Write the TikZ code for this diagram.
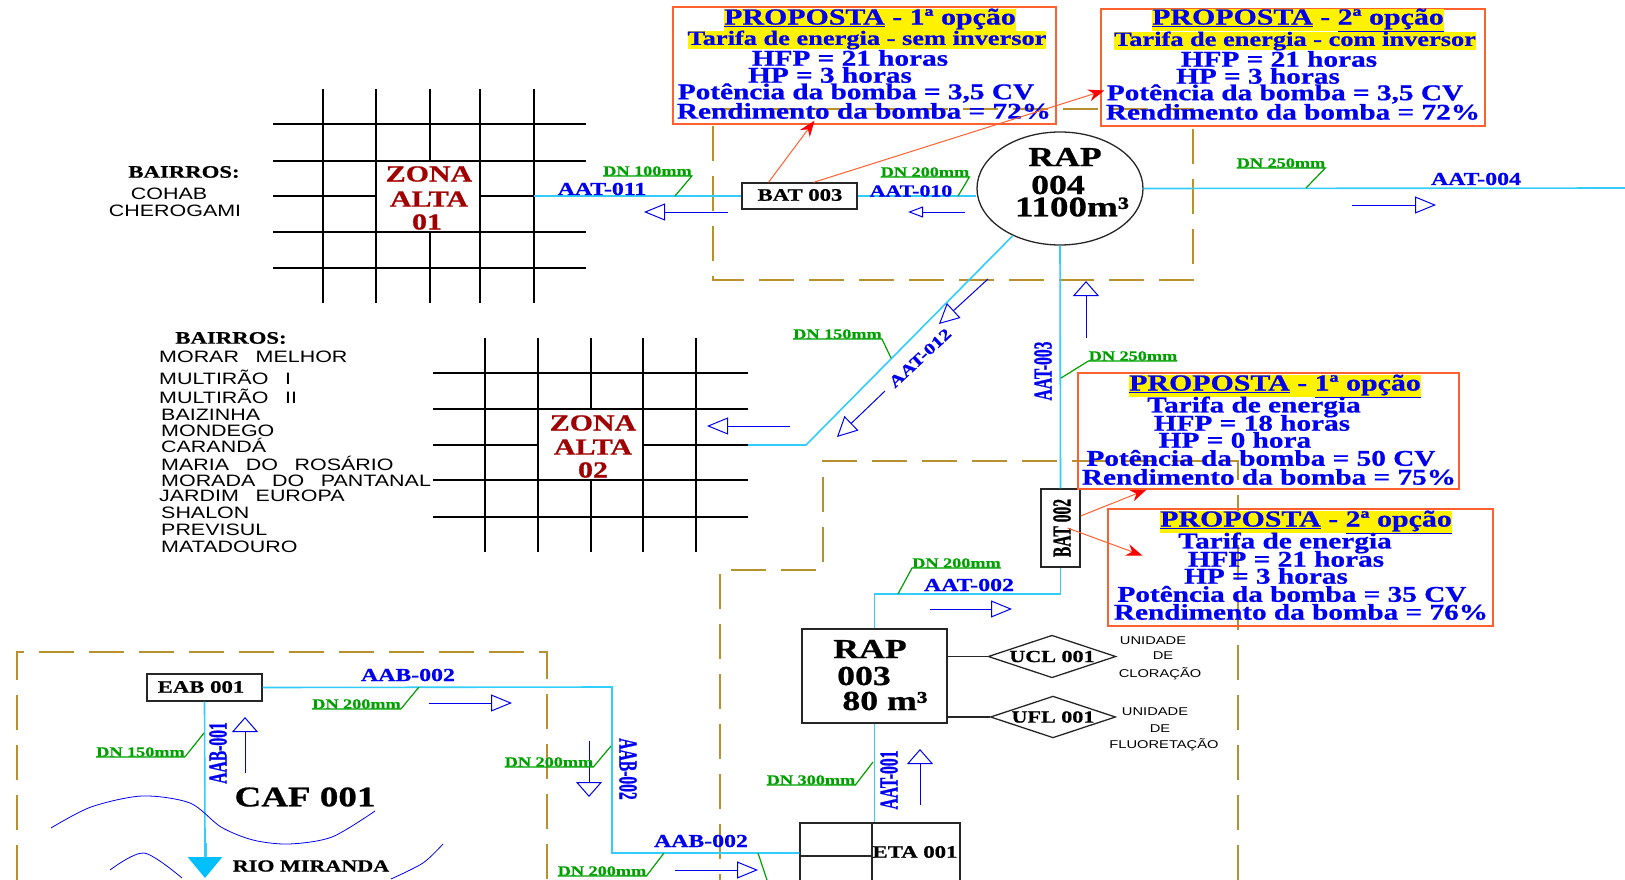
\documentclass[tikz,border=0pt]{standalone}
\usepackage{fontspec}
\usepackage{tikz}
\usetikzlibrary{arrows.meta,positioning,shapes.geometric}
\newfontfamily\cadserif[FakeStretch=1.3,BoldFeatures={FakeBold=.8}]{Liberation Serif}
\newfontfamily\cadtall[FakeStretch=0.6,BoldFeatures={FakeBold=.8}]{Liberation Serif}
\newfontfamily\cadsans[FakeStretch=1.3,WordSpace=2.8]{Liberation Sans}
\definecolor{pipeblue}{HTML}{33CCFF}
\definecolor{headblue}{HTML}{00BFFF}
\definecolor{txtblue}{HTML}{0000F0}
\definecolor{dngreen}{HTML}{00A000}
\definecolor{zonered}{HTML}{A00000}
\definecolor{limbrown}{HTML}{B8912F}
\definecolor{boxred}{HTML}{FF6030}
\tikzset{
  every node/.style={inner sep=0pt,align=center},
  limit/.style={limbrown,line width=1.3pt,dash pattern=on 35pt off 15pt},
  street/.style={black,line width=1.2pt},
  pipe/.style={pipeblue,line width=1.6pt},
  flow/.style={txtblue,line width=1pt,-{Triangle[open,length=#1]}},
  flow/.default={21pt,width=17pt},
  option/.style={draw=boxred,line width=1.4pt,minimum width=#1},
  redarrow/.style={boxred,line width=1pt,-{Stealth[length=16pt,width=12pt,color=red]}},
  station/.style={draw=black!85,line width=1.3pt},
  stationtxt/.style={font=\cadserif\bfseries\fontsize{17.5}{20}\selectfont},
  bigtxt/.style={font=\cadserif\bfseries\fontsize{27.5}{30}\selectfont},
  zonetxt/.style={zonered,font=\cadserif\bfseries\fontsize{23}{24}\selectfont},
  pipetxt/.style={txtblue,font=\cadserif\bfseries\fontsize{18.3}{20}\selectfont},
  pipetall/.style={txtblue,font=\cadtall\bfseries\fontsize{26}{28}\selectfont},
  dntxt/.style={dngreen,font=\cadserif\bfseries\fontsize{14}{15}\selectfont},
  dnline/.style={dngreen,line width=1.2pt},
  proptitle/.style={txtblue,fill=yellow,font=\cadserif\bfseries\fontsize{23}{24}\selectfont},
  propsub/.style={txtblue,font=\cadserif\bfseries\fontsize{20.3}{22}\selectfont},
  propline/.style={txtblue,font=\cadserif\bfseries\fontsize{22.5}{24}\selectfont},
  bairrotxt/.style={anchor=west,font=\cadsans\fontsize{16.5}{18}\selectfont},
  unittxt/.style={font=\cadsans\fontsize{11.3}{14}\selectfont},
  river/.style={txtblue,line width=.8pt},
}
\begin{document}
\begin{tikzpicture}[x=1pt,y=-1pt]
  \useasboundingbox (0,0) rectangle (1625,880);
  \clip (0,0) rectangle (1625,880);

  \draw[limit] (713,109) -- (1193,109) -- (1193,280) -- (713,280) -- cycle;
  \draw[limit] (1238,880) -- (1238,461) -- (823,461) -- (823,570) -- (720,570) -- (720,880);
  \draw[limit] (17,880) -- (17,652) -- (547,652) -- (547,880);

  \foreach \x in {323,376,480,534} \draw[street] (\x,89) -- (\x,303);
  \foreach \y in {124,161,232,268} \draw[street] (273,\y) -- (586,\y);
  \draw[street] (430,89) -- (430,161) (430,232) -- (430,303);
  \draw[street] (273,196) -- (376,196) (480,196) -- (534,196);
  \foreach \x in {485,538,643,696} \draw[street] (\x,338) -- (\x,552);
  \foreach \y in {373,409,480,517} \draw[street] (433,\y) -- (748,\y);
  \draw[street] (591,338) -- (591,409) (591,480) -- (591,552);
  \draw[street] (433,445) -- (538,445) (643,445) -- (748,445);

  \foreach \n/\x/\y/\t in {a/429/174/ZONA,b/429/199/ALTA,c/427/222/01}
    \node[zonetxt] (zone1\n) at (\x,\y) {\t};
  \foreach \n/\y/\t in {a/423/ZONA,b/447/ALTA,c/470/02}
    \node[zonetxt] (zone2\n) at (593,\y) {\t};

  \node[station,minimum width=115pt,minimum height=26pt] (bat003) at (799.5,196) {};
  \node[stationtxt] (bat003txt) at (800,195) {BAT 003};
  \node[station,ellipse,minimum width=166pt,minimum height=113pt] (rap004) at (1060,188.5) {};
  \node[bigtxt] (rap004a) at (1065,157) {RAP};
  \node[bigtxt] (rap004b) at (1058,185) {004};
  \node[bigtxt,font=\cadserif\bfseries\fontsize{28.5}{30}\selectfont] (rap004c) at (1072,207) {1100m³};
  \node[station,minimum width=39pt,minimum height=78pt] (bat002) at (1060.5,528) {};
  \node[rotate=90,font=\cadtall\bfseries\fontsize{26}{28}\selectfont] (bat002txt) at (1062,528) {BAT 002};
  \node[station,minimum width=145pt,minimum height=94pt] (rap003) at (874.5,676) {};
  \node[bigtxt] (rap003a) at (870,649) {RAP};
  \node[bigtxt] (rap003b) at (864,676) {003};
  \node[bigtxt] (rap003c) at (885,701) {80 m³};
  \node[station,minimum width=115pt,minimum height=27pt] (eab001) at (204.5,687.5) {};
  \node[stationtxt] (eab001txt) at (201,687) {EAB 001};
  \node[station,minimum width=160pt,minimum height=80pt] (eta001) at (880,863) {};
  \draw[station] (872,823) -- (872,880) (800,856) -- (872,856);
  \node[stationtxt] (eta001txt) at (915,852) {ETA 001};
  \node[station,diamond,aspect=3,inner sep=1pt] (ucl001) at (1052,656.5) {\cadserif\bfseries\fontsize{17}{19}\selectfont UCL 001};
  \node[station,diamond,aspect=3,inner sep=1pt] (ufl001) at (1053,717) {\cadserif\bfseries\fontsize{17}{19}\selectfont UFL 001};
  \draw[station] (rap003.east |- ucl001.west) -- (ucl001.west);
  \draw[station] (rap003.east |- ufl001.west) -- (ufl001.west);

  \coordinate (zone1e) at (534,196);
  \coordinate (zone2e) at (748,445);
  \coordinate (bendz) at (806,445);
  \coordinate (edgee) at (1625,188);
  \coordinate (bendb) at (1060.5,594);
  \coordinate (bendc) at (612,687);
  \coordinate (bendd) at (612,853);
  \draw[pipe] (zone1e) -- (bat003.west |- zone1e);
  \draw[pipe] (bat003.east) -- (bat003.east -| rap004.west);
  \draw[pipe] (rap004.east) -- (edgee);
  \draw[pipe] (zone2e) -- (bendz) -- (rap004.225);
  \draw[pipe] (rap004.south) -- (bat002.north);
  \draw[pipe] (bat002.south) -- (bendb) -- (bendb -| rap003.north) -- (rap003.north);
  \draw[pipe] (rap003.south) -- (rap003.south |- eta001.north);
  \draw[pipe] (eab001.east) -- (bendc) -- (bendd) -- (bendd -| eta001.west);
  \coordinate (riverp) at (205,878);
  \coordinate (rivers) at (205,843);
  \draw[pipe] (eab001.south) -- (rivers);
  \draw[pipe,line width=3pt,-{Triangle[length=21pt,width=34pt,color=headblue]}] (rivers) -- (riverp);

  \foreach \n/\xa/\ya/\xb/\yb in {a/728/212/644/212,c/1352/205/1436/205,g/790/426/707/426,h/930/609/1012/609,k/429/703/512/703,m/675/870/758/870}{
    \coordinate (fa\n) at (\xa,\ya);
    \coordinate (fb\n) at (\xb,\yb);
    \draw[flow] (fa\n) -- (fb\n);
  }
  \coordinate (fab) at (965,212);
  \coordinate (fbb) at (908,212);
  \draw[flow={15pt,width=11pt}] (fab) -- (fbb);
  \foreach \n/\xa/\ya/\xb/\yb in {d/1086/338/1086/281,i/920/805/920/749,j/245/773/245/717,l/589/741/589/797}{
    \coordinate (fa\n) at (\xa,\ya);
    \coordinate (fb\n) at (\xb,\yb);
    \draw[flow={15pt,width=26pt}] (fa\n) -- (fb\n);
  }
  \foreach \n/\xa/\ya/\xb/\yb in {e/988/279/939/324,f/885/391/837/437}{
    \coordinate (fa\n) at (\xa,\ya);
    \coordinate (fb\n) at (\xb,\yb);
    \draw[flow={20pt,width=20pt}] (fa\n) -- (fb\n);
  }

  \foreach \n/\x/\y/\t in {a/647.5/171/100,b/925/172/200,c/1281/163/250,d/837.5/334/150,f/356.5/704/200,g/140.5/752/150,h/549/762/200,i/811/780/300,j/602/871/200}
    \node[dntxt] (dn\n) at (\x,\y) {DN \t mm};
  \node[dntxt] (dne) at (1133,356) {DN 250mm};
  \node[dntxt] (dnk) at (956.5,563) {DN 200mm};
  \foreach \n/\x/\y in {a/675/196,b/958/196,c/1306/188,d/891/358,f/419/687,g/204/733,h/611/746,i/873/762,j/664/853}{
    \coordinate (dnp\n) at (\x,\y);
    \draw[dnline] (dn\n.south west) -- (dn\n.south east) -- (dnp\n);
  }
  \coordinate (dnpe) at (1061,378);
  \coordinate (dnpk) at (898,594);
  \draw[dnline] (dne.south east) -- (dne.south west) -- (dnpe);
  \draw[dnline] (dnk.south east) -- (dnk.south west) -- (dnpk);
  \coordinate (dnla) at (758,853);
  \coordinate (dnlb) at (767,880);
  \draw[dnline] (dnla) -- (dnlb);

  \node[pipetxt] (aat011) at (602,189) {AAT-011};
  \node[pipetxt,font=\cadserif\bfseries\fontsize{16.8}{20}\selectfont] (aat010) at (911,191) {AAT-010};
  \node[pipetxt] (aat004) at (1476,179) {AAT-004};
  \node[pipetxt] (aat002) at (969,585) {AAT-002};
  \node[pipetxt] (aab002a) at (408,675) {AAB-002};
  \node[pipetxt] (aab002c) at (701,841) {AAB-002};
  \node[pipetxt,rotate=43,font=\cadserif\bfseries\fontsize{16}{20}\selectfont] (aat012) at (920,358) {AAT-012};
  \node[pipetall,rotate=90] (aat003) at (1043,371) {AAT-003};
  \node[pipetall,rotate=90] (aat001) at (889,780) {AAT-001};
  \node[pipetall,rotate=90] (aab001) at (218,753) {AAB-001};
  \node[pipetall,rotate=-90] (aab002b) at (628,769) {AAB-002};

  \node[bigtxt,font=\cadserif\bfseries\fontsize{28.5}{30}\selectfont] (caf001) at (305,797) {CAF 001};
  \node[stationtxt,font=\cadserif\bfseries\fontsize{17}{18}\selectfont] (rio) at (311,866) {RIO MIRANDA};
  \draw[river] plot[smooth] coordinates {(51,828) (91,807) (142,796) (190,803) (221,827) (253,840) (289,844) (332,837) (375,811)};
  \draw[river] plot[smooth] coordinates {(110,870) (144,853) (182,878)};
  \draw[river] plot[smooth] coordinates {(391,879) (423,863) (443,844)};

  \node[stationtxt] (bairros1) at (184,172) {BAIRROS:};
  \node[unittxt,font=\cadsans\fontsize{16.5}{18}\selectfont] (cohab) at (169,194) {COHAB};
  \node[unittxt,font=\cadsans\fontsize{16.5}{18}\selectfont] (cherogami) at (175,211) {CHEROGAMI};
  \node[stationtxt] (bairros2) at (231,338) {BAIRROS:};
  \foreach \n/\x/\y/\t in {a/159/357/MORAR MELHOR,b/159/377/MULTIRÃO I,c/159/396/MULTIRÃO II,d/161/415/BAIZINHA,e/161/431/MONDEGO,f/161/445/CARANDÁ,g/161/463/MARIA DO ROSÁRIO,h/161/481/MORADA DO PANTANAL,i/159/496/JARDIM EUROPA,j/161/513/SHALON,k/161/530/PREVISUL,l/161/547/MATADOURO}
    \node[bairrotxt] (bairro\n) at (\x,\y) {\t};

  \foreach \n/\x/\y/\t in {a/1153/641/UNIDADE,b/1163/656/DE,c/1160/674/CLORAÇÃO,d/1155/712/UNIDADE,e/1160/729/DE,f/1164/745/FLUORETAÇÃO}
    \node[unittxt] (unit\n) at (\x,\y) {\t};

  \node[option=383pt,minimum height=117pt] (prop1) at (864.5,65.5) {};
  \node[option=384pt,minimum height=117pt] (prop2) at (1293,67.5) {};
  \node[option=381pt,minimum height=116pt] (prop3) at (1268.5,431) {};
  \node[option=385pt,minimum height=117pt] (prop4) at (1300.5,567.5) {};

  \node[proptitle] (prop1a) at (870,20) {\underline{PROPOSTA} - \underline{1ª opção}};
  \node[propsub,fill=yellow] (prop1b) at (867,40) {Tarifa de energia - sem inversor};
  \foreach \n/\x/\y/\t in {c/850/58/HFP = 21 horas,d/830/75/HP = 3 horas,e/856/93/{Potência da bomba = 3,5 CV},f/864/111/Rendimento da bomba = 72\%}
    \node[propline] (prop1\n) at (\x,\y) {\t};
  \node[proptitle] (prop2a) at (1298,20) {\underline{PROPOSTA} - \underline{2ª opção}};
  \node[propsub,fill=yellow] (prop2b) at (1295,41) {Tarifa de energia - com inversor};
  \foreach \n/\x/\y/\t in {c/1279/59/HFP = 21 horas,d/1258/76/HP = 3 horas,e/1285/94/{Potência da bomba = 3,5 CV},f/1293/112/Rendimento da bomba = 72\%}
    \node[propline] (prop2\n) at (\x,\y) {\t};
  \node[proptitle] (prop3a) at (1275,386) {\underline{PROPOSTA} - \underline{1ª opção}};
  \foreach \n/\x/\y/\t in {b/1254/407/Tarifa de energia,c/1252/423/HFP = 18 horas,d/1235/440/HP = 0 hora,e/1261/458/Potência da bomba = 50 CV,f/1269/477/Rendimento da bomba = 75\%}
    \node[propline] (prop3\n) at (\x,\y) {\t};
  \node[proptitle] (prop4a) at (1306,522) {\underline{PROPOSTA} - \underline{2ª opção}};
  \foreach \n/\x/\y/\t in {b/1285/543/Tarifa de energia,c/1286/559/HFP = 21 horas,d/1266/576/HP = 3 horas,e/1292/594/Potência da bomba = 35 CV,f/1301/612/Rendimento da bomba = 76\%}
    \node[propline] (prop4\n) at (\x,\y) {\t};

  \draw[redarrow] ([xshift=-31pt]bat003.north) -- ([xshift=-50pt,yshift=4pt]prop1.south);
  \draw[redarrow] ([xshift=14pt]bat003.north) -- ([xshift=4pt,yshift=-23pt]prop2.west);
  \draw[redarrow] ([yshift=12pt]bat002.east) -- ([xshift=-122pt]prop3.south);
  \draw[redarrow] ([xshift=7pt]bat002.center) -- ([xshift=35pt,yshift=12pt]prop4.west);
\end{tikzpicture}
\end{document}
